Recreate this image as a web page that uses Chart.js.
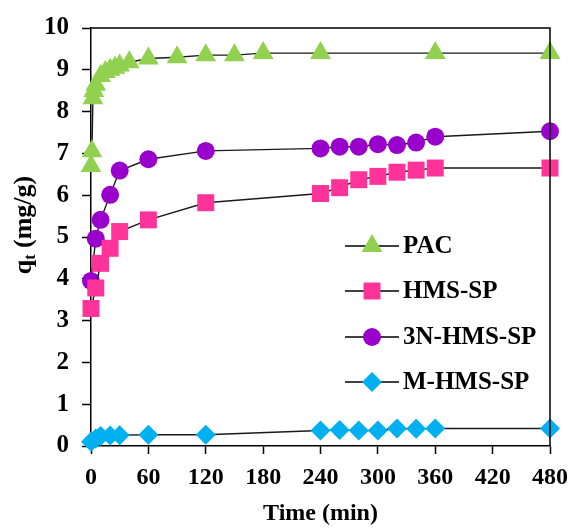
<!DOCTYPE html>
<html>
<head>
<meta charset="utf-8">
<script src="https://cdn.jsdelivr.net/npm/chart.js@4.4.0/dist/chart.umd.min.js"></script>
<style>
  html, body { margin: 0; padding: 0; background: #fff; }
  #wrap { width: 577px; height: 528px; }
</style>
</head>
<body>
<div id="wrap"><canvas id="grafico" width="577" height="528"></canvas></div>
<script>
// Cinética de adsorción: qt (mg/g) frente al tiempo (min)
const tiempoPAC = [0, 1, 2, 3, 5, 10, 15, 20, 25, 30, 40, 60, 90, 120, 150, 180, 240, 360, 480];
const qtPAC     = [6.7, 7.05, 8.32, 8.49, 8.64, 8.85, 8.95, 9.0, 9.05, 9.1, 9.18, 9.27, 9.3, 9.35, 9.35, 9.4, 9.4, 9.4, 9.4];

const tiempoHMS = [0, 5, 10, 20, 30, 60, 120, 240, 260, 280, 300, 320, 340, 360, 480];
const qtHMS     = [3.29, 3.78, 4.37, 4.73, 5.13, 5.41, 5.82, 6.04, 6.18, 6.37, 6.45, 6.55, 6.6, 6.65, 6.65];
const qt3N      = [3.95, 4.96, 5.41, 6.01, 6.59, 6.86, 7.06, 7.12, 7.16, 7.16, 7.22, 7.2, 7.26, 7.4, 7.53];
const qtM       = [0.1, 0.18, 0.24, 0.25, 0.26, 0.27, 0.27, 0.37, 0.38, 0.37, 0.37, 0.42, 0.41, 0.42, 0.42];

const etiquetas = ['PAC', 'HMS-SP', '3N-HMS-SP', 'M-HMS-SP'];
const ticksX = [0, 60, 120, 180, 240, 300, 360, 420, 480];
const ticksY = [0, 1, 2, 3, 4, 5, 6, 7, 8, 9, 10];

const fuente = '"Liberation Serif", "Times New Roman", serif';

function puntos(tiempos, valores) {
  return tiempos.map((t, i) => ({ x: t, y: valores[i] }));
}

function serie(label, datos, color, estilo, radio) {
  return {
    label,
    data: datos,
    borderColor: '#1a1a1a',
    borderWidth: 1.4,
    pointStyle: estilo,
    pointRadius: radio,
    pointHoverRadius: radio,
    pointBackgroundColor: color,
    pointBorderColor: color,
    pointBorderWidth: 0,
    tension: 0,
    clip: false
  };
}

// marco negro alrededor del área del gráfico
const marco = {
  id: 'marco',
  afterDatasetsDraw(chart) {
    const { ctx, chartArea: a } = chart;
    ctx.save();
    ctx.strokeStyle = '#000';
    ctx.lineWidth = 1.5;
    ctx.beginPath();
    ctx.moveTo(a.left, a.top);
    ctx.lineTo(a.right, a.top);
    ctx.lineTo(a.right, a.bottom);
    ctx.stroke();
    ctx.restore();
  }
};

// leyenda dentro del área, con línea a través del marcador
const leyendaInterna = {
  id: 'leyendaInterna',
  afterDraw(chart) {
    const ctx = chart.ctx;
    const filas = [246, 291, 337, 382];
    chart.data.datasets.forEach((ds, i) => {
      const y = filas[i];
      ctx.save();
      ctx.strokeStyle = '#000';
      ctx.lineWidth = 1.5;
      ctx.beginPath();
      ctx.moveTo(345, y);
      ctx.lineTo(399, y);
      ctx.stroke();
      ctx.fillStyle = ds.pointBackgroundColor;
      ctx.strokeStyle = ds.pointBorderColor;
      Chart.helpers.drawPoint(ctx, { pointStyle: ds.pointStyle, radius: ds.pointRadius, borderWidth: 0, rotation: 0 }, 372, y);
      ctx.fillStyle = '#000';
      ctx.font = 'bold 25px ' + fuente;
      ctx.textBaseline = 'middle';
      ctx.textAlign = 'left';
      ctx.fillText(ds.label, 403, y + 1);
      ctx.restore();
    });
  }
};

// título del eje y con subíndice
const tituloY = {
  id: 'tituloY',
  afterDraw(chart) {
    const ctx = chart.ctx;
    ctx.save();
    ctx.translate(24, 225);
    ctx.rotate(-Math.PI / 2);
    ctx.fillStyle = '#000';
    ctx.textBaseline = 'alphabetic';
    const fG = 'bold 26px ' + fuente;
    const fS = 'bold 16px ' + fuente;
    ctx.font = fG; const wq = ctx.measureText('q').width;
    ctx.font = fS; const wt = ctx.measureText('t').width;
    ctx.font = fG; const wr = ctx.measureText(' (mg/g)').width;
    let x = -(wq + wt + wr) / 2;
    ctx.font = fG; ctx.fillText('q', x, 7); x += wq;
    ctx.font = fS; ctx.fillText('t', x, 11); x += wt;
    ctx.font = fG; ctx.fillText(' (mg/g)', x, 7);
    ctx.restore();
  }
};

new Chart(document.getElementById('grafico'), {
  type: 'line',
  data: {
    datasets: [
      serie(etiquetas[0], puntos(tiempoPAC, qtPAC), '#92D050', 'triangle', 12),
      serie(etiquetas[1], puntos(tiempoHMS, qtHMS), '#FF3399', 'rect', 12),
      serie(etiquetas[2], puntos(tiempoHMS, qt3N), '#9900CC', 'circle', 9),
      serie(etiquetas[3], puntos(tiempoHMS, qtM), '#00B0F0', 'rectRot', 10)
    ]
  },
  options: {
    responsive: false,
    animation: false,
    layout: { padding: { top: 24, right: 11, left: 0, bottom: 0 } },
    plugins: {
      legend: { display: false },
      tooltip: { enabled: false }
    },
    scales: {
      x: {
        type: 'linear',
        min: ticksX[0],
        max: ticksX[ticksX.length - 1],
        afterBuildTicks: s => { s.ticks = ticksX.map(v => ({ value: v })); },
        afterFit: s => { s.height = 82; },
        ticks: { color: '#000', font: { family: fuente, size: 24, weight: 'bold' }, padding: 9, maxRotation: 0 },
        grid: { drawOnChartArea: false, drawTicks: true, tickLength: 8, tickColor: '#000', tickWidth: 1.5 },
        border: { display: true, color: '#000', width: 1.5 },
        title: {
          display: true, text: 'Time (min)', color: '#000',
          font: { family: fuente, size: 24, weight: 'bold' },
          padding: { top: 0, bottom: 0 }
        }
      },
      y: {
        min: ticksY[0],
        max: ticksY[ticksY.length - 1],
        afterBuildTicks: s => { s.ticks = ticksY.map(v => ({ value: v })); },
        afterFit: s => { s.width = 91; },
        ticks: { color: '#000', font: { family: fuente, size: 25, weight: 'bold' }, padding: 13 },
        grid: { drawOnChartArea: false, drawTicks: true, tickLength: 9, tickColor: '#000', tickWidth: 1.5 },
        border: { display: true, color: '#000', width: 1.5 }
      }
    }
  },
  plugins: [marco, leyendaInterna, tituloY]
});
</script>
</body>
</html>
